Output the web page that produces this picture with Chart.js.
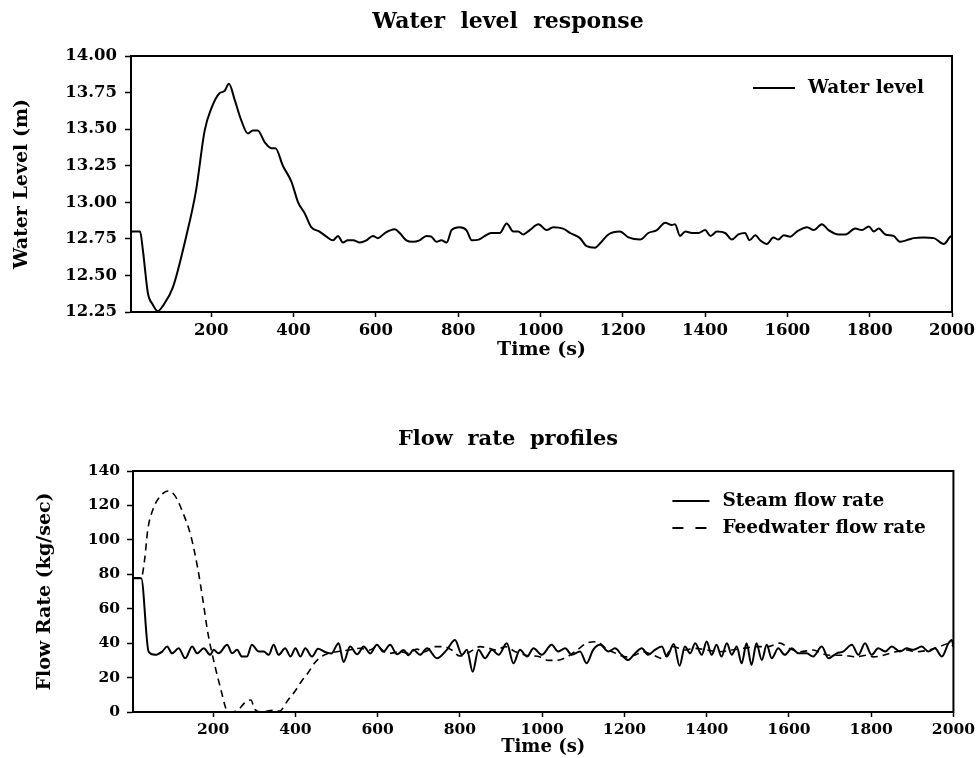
<!DOCTYPE html>
<html>
<head>
<meta charset="utf-8">
<title>Water level response / Flow rate profiles</title>
<script src="https://cdn.jsdelivr.net/npm/chart.js@4.4.1/dist/chart.umd.min.js"></script>
<style>
  body { margin: 0; background: #fff; }
  canvas { display: block; }
</style>
</head>
<body>
<canvas id="levelChart" width="979" height="362"></canvas>
<canvas id="flowChart" width="979" height="396"></canvas>
<script>
// tick labels
var timeTicks = [200, 400, 600, 800, 1000, 1200, 1400, 1600, 1800, 2000];
var levelTicks = [12.25, 12.5, 12.75, 13.0, 13.25, 13.5, 13.75, 14.0];
var flowTicks = [0, 20, 40, 60, 80, 100, 120, 140];

// water level (m)
var levelTime = [5, 27, 34, 46, 58, 70, 82, 107, 139, 163, 184, 200, 220, 232, 243, 257, 273, 289, 301, 313,
  330, 346, 356, 374, 395, 411, 427, 443, 463, 480, 496, 508, 520, 532, 545, 561, 577, 593, 605, 622,
  646, 658, 674, 690, 706, 723, 735, 747, 759, 772, 784, 804, 820, 833, 850, 865, 880, 901, 918, 934,
  946, 958, 974, 995, 1015, 1031, 1055, 1072, 1096, 1112, 1133, 1145, 1165, 1193, 1214, 1242, 1262, 1283, 1303, 1319,
  1327, 1339, 1352, 1368, 1384, 1400, 1413, 1429, 1449, 1465, 1481, 1497, 1508, 1522, 1534, 1550, 1566, 1578, 1591, 1607,
  1623, 1648, 1664, 1684, 1700, 1725, 1741, 1765, 1781, 1798, 1810, 1822, 1838, 1858, 1874, 1895, 1907, 1931, 1956, 1980,
  1996, 2000];
var waterLevel = [12.80, 12.80, 12.67, 12.38, 12.30, 12.255, 12.29, 12.42, 12.765, 13.08, 13.49, 13.64, 13.745, 13.76, 13.81, 13.70, 13.56, 13.47, 13.49, 13.49,
  13.41, 13.37, 13.37, 13.25, 13.14, 13.00, 12.925, 12.83, 12.80, 12.765, 12.74, 12.77, 12.725, 12.74, 12.74, 12.725, 12.74, 12.77, 12.755, 12.79,
  12.815, 12.79, 12.74, 12.73, 12.74, 12.77, 12.765, 12.73, 12.74, 12.725, 12.81, 12.83, 12.81, 12.74, 12.745, 12.77, 12.79, 12.79, 12.855, 12.80,
  12.80, 12.78, 12.81, 12.85, 12.81, 12.83, 12.82, 12.79, 12.755, 12.70, 12.69, 12.72, 12.78, 12.80, 12.76, 12.745, 12.79, 12.81, 12.86, 12.845,
  12.85, 12.77, 12.80, 12.79, 12.79, 12.81, 12.77, 12.80, 12.79, 12.745, 12.78, 12.79, 12.74, 12.775, 12.74, 12.715, 12.76, 12.745, 12.775, 12.765,
  12.80, 12.83, 12.81, 12.85, 12.81, 12.78, 12.78, 12.82, 12.81, 12.835, 12.80, 12.82, 12.78, 12.77, 12.73, 12.745, 12.755, 12.76, 12.755, 12.715,
  12.765, 12.77];

// steam flow rate (kg/sec)
var steamTime = [5, 25, 43, 59, 76, 88, 100, 116, 132, 149, 161, 177, 193, 201, 213, 234, 246, 258, 270, 282,
  294, 311, 323, 335, 347, 359, 375, 388, 400, 412, 424, 440, 455, 471, 487, 505, 517, 533, 550, 566,
  582, 598, 614, 630, 647, 663, 675, 687, 703, 720, 744, 768, 788, 805, 817, 831, 845, 861, 878, 894,
  914, 930, 946, 963, 979, 999, 1023, 1039, 1056, 1072, 1092, 1108, 1124, 1141, 1161, 1177, 1193, 1209, 1226, 1242,
  1258, 1274, 1291, 1303, 1320, 1334, 1347, 1360, 1372, 1388, 1400, 1412, 1424, 1436, 1449, 1461, 1473, 1485, 1497, 1509,
  1521, 1534, 1546, 1558, 1574, 1590, 1607, 1623, 1643, 1659, 1680, 1696, 1716, 1732, 1753, 1769, 1785, 1801, 1817, 1834,
  1850, 1870, 1886, 1903, 1923, 1939, 1955, 1972, 1988, 1996, 2000];
var steamFlow = [77.7, 77.7, 35.0, 33.2, 35.1, 38.0, 34.1, 37.0, 31.2, 38.0, 34.1, 37.0, 33.2, 36.1, 34.1, 39.0, 34.1, 36.1, 32.2, 32.2,
  39.0, 35.1, 35.1, 33.2, 39.0, 33.2, 37.0, 32.2, 37.0, 32.2, 37.0, 32.2, 36.7, 35.0, 34.0, 40.0, 29.0, 38.0, 33.5, 38.0,
  34.0, 39.0, 35.0, 39.0, 33.5, 36.0, 33.0, 36.1, 33.2, 37.0, 31.2, 36.1, 41.8, 33.2, 36.1, 23.4, 36.1, 31.2, 36.1, 33.2,
  39.9, 28.3, 36.1, 32.2, 37.0, 33.2, 39.0, 35.1, 37.0, 33.2, 35.1, 28.3, 36.1, 39.0, 35.1, 37.0, 33.2, 30.2, 34.1, 37.0,
  33.2, 36.1, 38.0, 32.2, 39.5, 26.8, 38.0, 34.1, 39.9, 33.2, 40.9, 33.2, 39.0, 32.2, 39.9, 33.2, 38.0, 28.3, 39.9, 27.3,
  39.9, 30.2, 39.0, 31.2, 37.0, 33.2, 37.0, 34.1, 34.1, 32.2, 38.0, 31.2, 34.1, 35.1, 39.0, 33.2, 39.9, 33.2, 37.0, 35.1,
  38.0, 35.1, 37.0, 36.1, 38.0, 35.1, 37.0, 32.2, 39.9, 41.8, 38.0];

// feedwater flow rate (kg/sec)
var feedTime = [5, 25, 33, 41, 54, 70, 90, 106, 126, 146, 162, 175, 187, 203, 219, 231, 239, 260, 275, 284,
  292, 300, 316, 348, 361, 382, 398, 414, 430, 446, 462, 479, 500, 530, 558, 580, 598, 625, 655, 675,
  695, 715, 736, 760, 780, 800, 825, 849, 870, 889, 910, 935, 960, 995, 1015, 1035, 1060, 1085, 1108, 1133,
  1155, 1180, 1205, 1225, 1246, 1270, 1294, 1319, 1345, 1370, 1400, 1430, 1460, 1490, 1521, 1550, 1578, 1600, 1627, 1659,
  1680, 1700, 1730, 1764, 1790, 1805, 1830, 1860, 1886, 1910, 1940, 1967, 1991, 2000];
var feedFlow = [78, 78, 88, 106, 118, 125, 128.4, 126, 116, 102, 84, 65, 46, 28, 12.8, 2, 0, 1, 5, 6.5,
  7, 2, 0, 1, 0.5, 7, 11.8, 17.6, 22.5, 28.3, 32, 34, 35, 36, 37, 36, 38, 34, 35, 34,
  36.5, 35, 38, 38, 36, 32.5, 35, 38, 37, 36, 38, 35, 33, 32, 30, 30, 32, 36, 40, 40.8,
  37, 34, 32, 33, 35, 33, 31, 38, 36, 37, 36, 35, 36, 37, 38, 38, 40, 37, 35, 36,
  34, 33, 33, 32, 33, 32, 33, 35, 36, 35, 36, 38, 40, 38];

function pontos(tempo, valores) {
  return tempo.map(function (t, i) {
    return { x: t, y: valores[i] };
  });
}

var fonte = "'DejaVu Serif', 'Liberation Serif', serif";

// box around the plot + legend inside it
var moldura = {
  id: "moldura",
  afterLayout: function (chart, args, opts) {
    if (opts.titleCenter) {
      chart.titleBlock.left = 2 * opts.titleCenter - chart.titleBlock.right;
      chart.titleBlock.width = chart.titleBlock.right - chart.titleBlock.left;
    }
  },
  afterDatasetsDraw: function (chart, args, opts) {
    var ctx = chart.ctx;
    var area = chart.chartArea;
    ctx.save();
    ctx.strokeStyle = "#000";
    ctx.lineWidth = 2;
    ctx.strokeRect(area.left, area.top, area.right - area.left, area.bottom - area.top);
    ctx.font = "bold " + opts.fontSize + "px " + fonte;
    ctx.textBaseline = "middle";
    ctx.textAlign = "left";
    ctx.fillStyle = "#000";
    chart.data.datasets.forEach(function (ds, i) {
      var x = area.right - opts.right;
      var y = area.top + opts.top + i * opts.row;
      ctx.beginPath();
      ctx.lineWidth = 1.8;
      ctx.setLineDash(ds.borderDash ? opts.dash : []);
      ctx.moveTo(x, y);
      ctx.lineTo(x + opts.sample, y);
      ctx.stroke();
      ctx.setLineDash([]);
      ctx.fillText(ds.label, x + opts.sample + opts.gap, y);
    });
    ctx.restore();
  }
};

function opcoes(cfg) {
  return {
    responsive: false,
    animation: false,
    events: [],
    layout: { padding: { left: 0, right: cfg.padRight, top: 0, bottom: cfg.padBottom } },
    plugins: {
      legend: { display: false },
      tooltip: { enabled: false },
      title: {
        display: true,
        text: cfg.title,
        color: "#000",
        font: { family: fonte, size: cfg.titleSize, weight: "bold" },
        padding: { top: cfg.titleTop, bottom: cfg.titleBottom }
      },
      moldura: cfg.legend
    },
    scales: {
      x: {
        type: "linear",
        min: 5,
        max: 2000,
        afterBuildTicks: function (scale) {
          scale.ticks = timeTicks.map(function (v) { return { value: v }; });
        },
        afterFit: function (scale) {
          scale.height = cfg.xHeight;
        },
        ticks: {
          color: "#000",
          padding: 4,
          maxRotation: 0,
          font: { family: fonte, size: cfg.tickSize, weight: "bold" },
          callback: function (v) { return String(v); }
        },
        grid: { drawOnChartArea: false, drawTicks: true, tickLength: 5, tickWidth: 1.5, tickColor: "#000" },
        border: { display: true, color: "#000", width: 2 },
        title: {
          display: true,
          text: "Time (s)",
          color: "#000",
          padding: { top: 0, bottom: 0 },
          font: { family: fonte, size: cfg.xTitleSize, weight: "bold" }
        }
      },
      y: {
        type: "linear",
        min: cfg.yTicks[0],
        max: cfg.yTicks[cfg.yTicks.length - 1],
        afterBuildTicks: function (scale) {
          scale.ticks = cfg.yTicks.map(function (v) { return { value: v }; });
        },
        afterFit: function (scale) {
          scale.width = cfg.yWidth;
        },
        ticks: {
          color: "#000",
          padding: cfg.yTickPad,
          font: { family: fonte, size: cfg.tickSize, weight: "bold" },
          callback: function (v) { return v.toFixed(cfg.decimais); }
        },
        grid: { drawOnChartArea: false, drawTicks: true, tickLength: 6, tickWidth: 1.5, tickColor: "#000" },
        border: { display: true, color: "#000", width: 2 },
        title: {
          display: true,
          text: cfg.yTitle,
          color: "#000",
          padding: { top: cfg.yTitlePad, bottom: 0 },
          font: { family: fonte, size: 19, weight: "bold" }
        }
      }
    }
  };
}

new Chart(document.getElementById("levelChart"), {
  type: "line",
  data: {
    datasets: [
      {
        label: "Water level",
        data: pontos(levelTime, waterLevel),
        borderColor: "#000",
        borderWidth: 2,
        pointRadius: 0,
        cubicInterpolationMode: "monotone"
      }
    ]
  },
  options: opcoes({
    title: "Water  level  response",
    titleSize: 22,
    titleTop: 8.8,
    titleBottom: 20.8,
    padRight: 27,
    padBottom: 1,
    xHeight: 49,
    xTitleSize: 19,
    yWidth: 131,
    yTickPad: 8,
    yTitlePad: 10.6,
    tickSize: 16.5,
    yTicks: levelTicks,
    decimais: 2,
    yTitle: "Water Level (m)",
    legend: { right: 199, top: 32, row: 27, sample: 42, gap: 13, fontSize: 18.5, dash: [11, 12], titleCenter: 508 }
  }),
  plugins: [moldura]
});

new Chart(document.getElementById("flowChart"), {
  type: "line",
  data: {
    datasets: [
      {
        label: "Steam flow rate",
        data: pontos(steamTime, steamFlow),
        borderColor: "#000",
        borderWidth: 2,
        pointRadius: 0,
        cubicInterpolationMode: "monotone"
      },
      {
        label: "Feedwater flow rate",
        data: pontos(feedTime, feedFlow),
        borderColor: "#000",
        borderWidth: 1.6,
        borderDash: [7, 5],
        pointRadius: 0,
        cubicInterpolationMode: "monotone"
      }
    ]
  },
  options: opcoes({
    title: "Flow  rate  profiles",
    titleSize: 21,
    titleTop: 65.4,
    titleBottom: 18.4,
    padRight: 25,
    padBottom: 0,
    xHeight: 46,
    xTitleSize: 18,
    yWidth: 133,
    yTickPad: 7,
    yTitlePad: 33.6,
    tickSize: 15.5,
    yTicks: flowTicks,
    decimais: 0,
    yTitle: "Flow Rate (kg/sec)",
    legend: { right: 281, top: 30, row: 27, sample: 37, gap: 13, fontSize: 18.5, dash: [11, 12], titleCenter: 508 }
  }),
  plugins: [moldura]
});
</script>
</body>
</html>
